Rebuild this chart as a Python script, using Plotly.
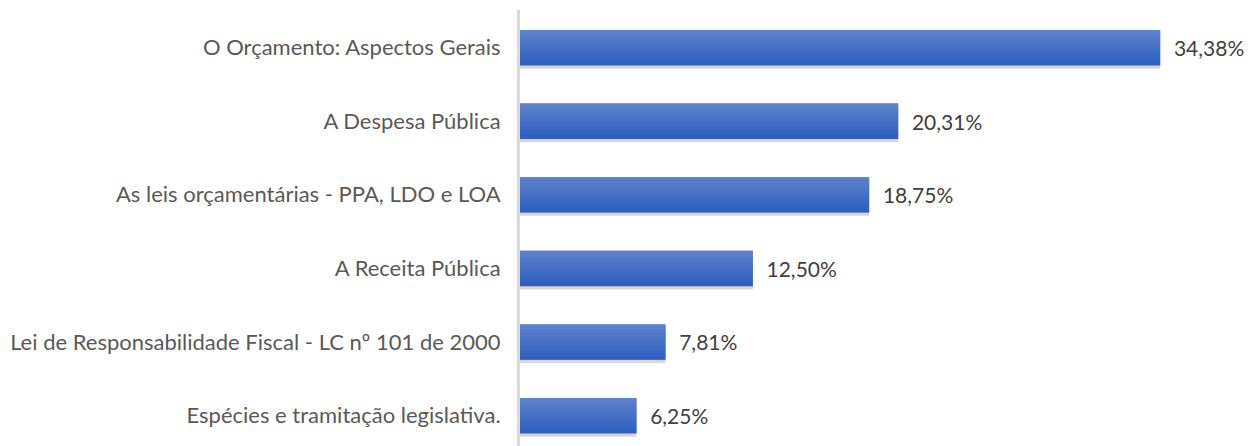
import plotly.graph_objects as go

categories = [
    "O Orçamento: Aspectos Gerais",
    "A Despesa Pública",
    "As leis orçamentárias - PPA, LDO e LOA",
    "A Receita Pública",
    "Lei de Responsabilidade Fiscal - LC nº 101 de 2000",
    "Espécies e tramitação legislativa.",
]
values = [34.38, 20.31, 18.75, 12.50, 7.81, 6.25]

FONT = "Lato"
BAR_W = 0.475

fig = go.Figure()

# shadow
fig.add_trace(go.Bar(
    y=categories, x=values, orientation="h", width=BAR_W, offset=-BAR_W / 2 + 0.05,
    marker=dict(color="rgba(120,120,120,0.30)", line=dict(width=0)),
    hoverinfo="skip", showlegend=False,
))

# base bar with labels
fig.add_trace(go.Bar(
    y=categories, x=values, orientation="h", width=BAR_W,
    marker=dict(color="#4470c8", line=dict(width=0)),
    texttemplate="\u00a0\u00a0%{x:.2f}%", textposition="outside",
    textfont=dict(family=FONT, size=21, color="#404040"),
    cliponaxis=False, showlegend=False,
))

# gradient bands
N = 12
top = (0x5c, 0x81, 0xcd)
bot = (0x2f, 0x60, 0xc0)
bw = BAR_W / N
for i in range(N):
    t = i / (N - 1)
    c = tuple(round(top[k] + (bot[k] - top[k]) * t) for k in range(3))
    fig.add_trace(go.Bar(
        y=categories, x=values, orientation="h", width=bw * 1.15,
        offset=-BAR_W / 2 + i * bw,
        marker=dict(color="rgb(%d,%d,%d)" % c, line=dict(width=0)),
        hoverinfo="skip", showlegend=False,
    ))

fig.update_layout(
    width=1246, height=438,
    margin=dict(l=512, r=0, t=2, b=0, autoexpand=False),
    plot_bgcolor="white", paper_bgcolor="white",
    barmode="overlay",
    separators=",.",
    showlegend=False,
    font=dict(family=FONT, size=22, color="#595959"),
)
fig.update_xaxes(range=[0, 734 / 18.62], showgrid=False, zeroline=False,
                 showticklabels=False, showline=False, automargin=False)
fig.update_yaxes(range=[5 + 30.5 / 73.6, -37.5 / 73.6], showgrid=False,
                 showline=True, linecolor="#d9d9d9", linewidth=3,
                 ticks="", ticklabelstandoff=12, automargin=False,
                 tickfont=dict(family=FONT, size=22, color="#595959"))

fig.write_html("out.html")
